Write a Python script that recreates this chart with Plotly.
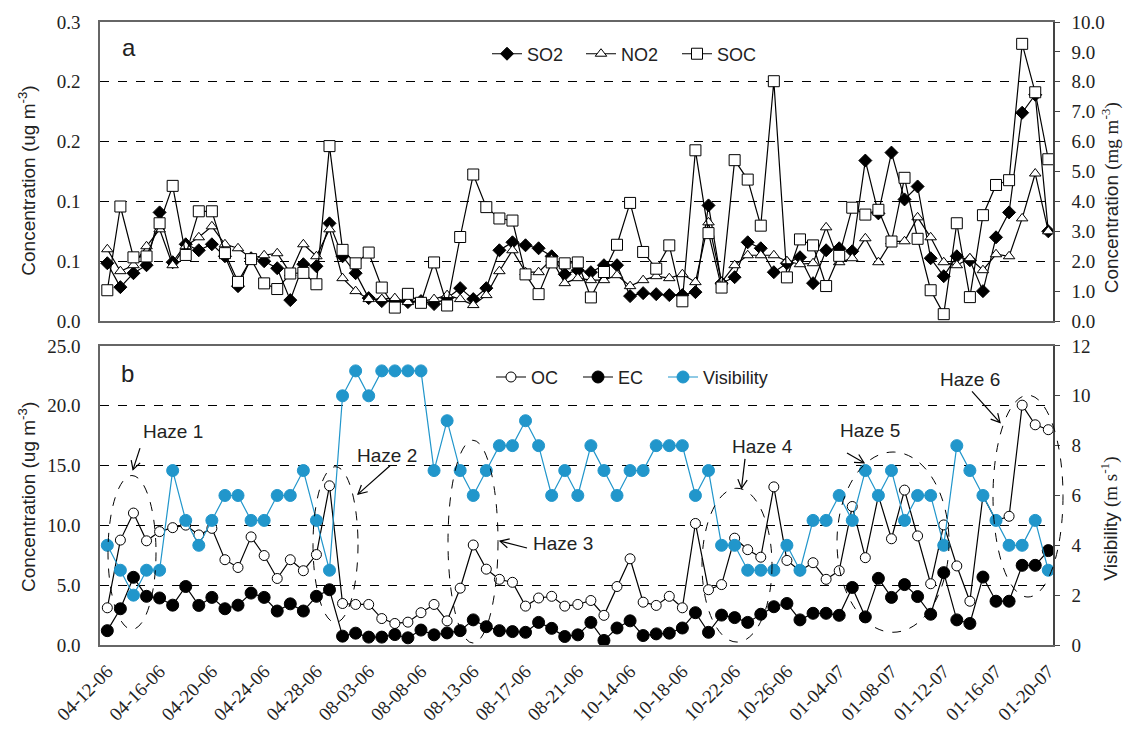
import math
import plotly.graph_objects as go

DATES = [
    "04-12-06", "04-13-06", "04-14-06", "04-15-06", "04-16-06", "04-17-06", "04-18-06",
    "04-19-06", "04-20-06", "04-21-06", "04-22-06", "04-23-06", "04-24-06", "04-25-06",
    "04-26-06", "04-27-06", "04-28-06", "04-29-06", "04-30-06",
    "08-02-06", "08-03-06", "08-04-06", "08-05-06", "08-07-06", "08-08-06", "08-09-06",
    "08-10-06", "08-12-06", "08-13-06", "08-14-06", "08-15-06", "08-16-06", "08-17-06",
    "08-18-06", "08-19-06", "08-20-06", "08-21-06", "08-22-06",
    "10-12-06", "10-13-06", "10-14-06", "10-15-06", "10-16-06", "10-17-06", "10-18-06",
    "10-19-06", "10-20-06", "10-21-06", "10-22-06", "10-23-06", "10-24-06", "10-25-06",
    "10-26-06", "10-27-06",
    "01-02-07", "01-03-07", "01-04-07", "01-05-07", "01-06-07", "01-07-07", "01-08-07",
    "01-09-07", "01-10-07", "01-11-07", "01-12-07", "01-13-07", "01-14-07", "01-15-07",
    "01-16-07", "01-17-07", "01-18-07", "01-19-07", "01-20-07",
]

TICK_LABELS = [
    "04-12-06", "04-16-06", "04-20-06", "04-24-06", "04-28-06", "08-03-06", "08-08-06",
    "08-13-06", "08-17-06", "08-21-06", "10-14-06", "10-18-06", "10-22-06", "10-26-06",
    "01-04-07", "01-08-07", "01-12-07", "01-16-07", "01-20-07",
]

SO2 = [0.058, 0.034, 0.048, 0.056, 0.109, 0.059, 0.077, 0.071, 0.077, 0.065,
       0.035, 0.063, 0.060, 0.053, 0.021, 0.057, 0.055, 0.098, 0.065, 0.048,
       0.023, 0.020, 0.020, 0.019, 0.020, 0.017, 0.023, 0.033, 0.022, 0.033,
       0.071, 0.079, 0.076, 0.073, 0.065, 0.047, 0.051, 0.049, 0.056, 0.056,
       0.025, 0.028, 0.027, 0.026, 0.026, 0.029, 0.116, 0.038, 0.044, 0.079,
       0.073, 0.049, 0.058, 0.064, 0.038, 0.071, 0.073, 0.070, 0.161, 0.108,
       0.169, 0.122, 0.135, 0.063, 0.045, 0.065, 0.061, 0.030, 0.084, 0.109,
       0.209, 0.227, 0.090]

NO2 = [0.072, 0.050, 0.056, 0.075, 0.092, 0.056, 0.075, 0.084, 0.095, 0.077,
       0.073, 0.063, 0.066, 0.068, 0.048, 0.077, 0.065, 0.092, 0.043, 0.030,
       0.022, 0.022, 0.023, 0.019, 0.020, 0.022, 0.026, 0.022, 0.016, 0.026,
       0.050, 0.071, 0.049, 0.049, 0.062, 0.038, 0.043, 0.041, 0.041, 0.046,
       0.035, 0.041, 0.045, 0.043, 0.047, 0.039, 0.099, 0.039, 0.056, 0.066,
       0.066, 0.066, 0.060, 0.057, 0.058, 0.094, 0.059, 0.063, 0.083, 0.059,
       0.080, 0.080, 0.104, 0.084, 0.059, 0.056, 0.063, 0.051, 0.067, 0.065,
       0.103, 0.148, 0.090]

SOC = [1.03, 3.83, 2.13, 2.16, 3.27, 4.52, 2.21, 3.67, 3.67, 2.27,
       1.31, 2.07, 1.26, 1.07, 1.59, 1.61, 1.23, 5.85, 2.38, 1.93,
       2.29, 1.12, 0.45, 0.91, 0.61, 1.96, 0.52, 2.81, 4.90, 3.81,
       3.43, 3.36, 1.56, 0.90, 1.96, 1.93, 1.96, 0.79, 1.64, 2.55,
       3.95, 2.31, 1.75, 2.53, 0.66, 5.71, 2.94, 1.12, 5.38, 4.73,
       3.19, 8.02, 1.46, 2.73, 2.53, 1.17, 2.18, 3.79, 3.56, 3.72,
       2.66, 4.79, 2.75, 1.03, 0.23, 3.27, 0.80, 3.54, 4.55, 4.71,
       9.27, 7.65, 5.41]

OC = [3.11, 8.77, 11.03, 8.71, 9.48, 9.81, 10.02, 9.20, 9.75, 7.13,
      6.48, 9.04, 7.48, 5.56, 7.13, 6.21, 7.56, 13.31, 3.47, 3.39,
      3.39, 2.21, 1.80, 1.91, 2.70, 3.39, 2.02, 4.75, 8.36, 6.34,
      5.49, 5.24, 3.25, 3.93, 4.07, 3.25, 3.39, 3.72, 2.48, 4.89,
      7.21, 3.58, 3.31, 4.07, 3.11, 10.16, 4.62, 5.05, 8.93, 7.97,
      7.34, 13.22, 7.07, 6.20, 6.88, 5.49, 6.21, 11.58, 7.30, 12.48,
      8.88, 12.95, 9.12, 5.12, 10.04, 6.61, 3.66, 12.48, 10.40, 10.76,
      20.05, 18.41, 18.00]

EC = [1.20, 3.03, 5.66, 4.07, 3.93, 3.33, 4.89, 3.31, 3.98, 3.03,
      3.33, 4.34, 3.98, 2.84, 3.44, 2.84, 4.07, 4.62, 0.74, 0.99,
      0.66, 0.66, 0.87, 0.60, 1.25, 0.85, 1.01, 1.20, 2.10, 1.53,
      1.20, 1.12, 1.06, 1.89, 1.39, 0.71, 0.85, 1.89, 0.38, 1.42,
      2.02, 0.79, 0.93, 0.99, 1.42, 2.70, 1.06, 2.50, 2.29, 1.89,
      2.57, 3.20, 3.47, 2.10, 2.65, 2.65, 2.48, 4.81, 2.35, 5.57,
      3.98, 5.05, 4.05, 2.57, 6.05, 2.10, 1.80, 5.68, 3.66, 3.66,
      6.66, 6.66, 7.89]

VISIBILITY = [4, 3, 2, 3, 3, 7, 5, 4, 5, 6,
              6, 5, 5, 6, 6, 7, 5, 3, 10, 11,
              10, 11, 11, 11, 11, 7, 9, 7, 6, 7,
              8, 8, 9, 8, 6, 7, 6, 8, 7, 6,
              7, 7, 8, 8, 8, 6, 7, 4, 4, 3,
              3, 3, 4, 3, 5, 5, 6, 5, 7, 6,
              7, 5, 6, 6, 4, 8, 7, 6, 5, 4,
              4, 5, 3]

HAZE_LABELS = ["Haze 1", "Haze 2", "Haze 3", "Haze 4", "Haze 5", "Haze 6"]

BLUE = "#2196CB"
SANS = "Liberation Sans"
SERIF = "Liberation Serif"
TXT = "#222222"

# figure geometry (pixels)
W, H = 1128, 737
ML, MR, MT, MB = 100, 75, 20, 81
PW = W - ML - MR
PH = H - MT - MB


def px(xp):
    return (xp - ML) / PW


def py(yp):
    return (H - MB - yp) / PH


fig = go.Figure()

line_k = dict(color="black", width=1.2)

fig.add_trace(go.Scatter(x=DATES, y=SO2, name="SO2", mode="lines+markers",
                         line=line_k, xaxis="x", yaxis="y", legend="legend",
                         marker=dict(symbol="diamond", size=10, color="black",
                                     line=dict(color="black", width=1))))
fig.add_trace(go.Scatter(x=DATES, y=NO2, name="NO2", mode="lines+markers",
                         line=line_k, xaxis="x", yaxis="y", legend="legend2",
                         marker=dict(symbol="triangle-up", size=10, color="white",
                                     line=dict(color="black", width=1))))
fig.add_trace(go.Scatter(x=DATES, y=SOC, name="SOC", mode="lines+markers",
                         line=line_k, xaxis="x", yaxis="y2", legend="legend3",
                         marker=dict(symbol="square", size=11, color="white",
                                     line=dict(color="black", width=1))))

fig.add_trace(go.Scatter(x=DATES, y=OC, name="OC", mode="lines+markers",
                         line=line_k, xaxis="x2", yaxis="y3", legend="legend4",
                         marker=dict(symbol="circle", size=10, color="white",
                                     line=dict(color="black", width=1))))
fig.add_trace(go.Scatter(x=DATES, y=EC, name="EC", mode="lines+markers",
                         line=line_k, xaxis="x2", yaxis="y3", legend="legend5",
                         marker=dict(symbol="circle", size=12, color="black",
                                     line=dict(color="black", width=1))))
fig.add_trace(go.Scatter(x=DATES, y=VISIBILITY, name="Visibility", mode="lines+markers",
                         line=dict(color=BLUE, width=1.2), xaxis="x2", yaxis="y4",
                         legend="legend6",
                         marker=dict(symbol="circle", size=12, color=BLUE,
                                     line=dict(color=BLUE, width=1))))

xrange = [-0.56, 72.36]
axis_line = dict(showline=True, linecolor="#666666", linewidth=1.5, mirror=True)
tickfont = dict(family=SERIF, size=19, color=TXT)


def legend_at(marker_x, center_y):
    return dict(orientation="h", x=px(marker_x - 20), y=py(center_y), xanchor="left",
                yanchor="middle", bgcolor="rgba(0,0,0,0)",
                font=dict(family=SANS, size=18, color=TXT))


fig.update_layout(
    width=W, height=H,
    margin=dict(l=ML, r=MR, t=MT, b=MB),
    paper_bgcolor="white", plot_bgcolor="white",
    showlegend=True,
    xaxis=dict(domain=[0, 1], anchor="y", type="category",
               categoryorder="array", categoryarray=DATES, range=xrange,
               showticklabels=False, showgrid=False, ticks="", **axis_line),
    yaxis=dict(domain=[0.52, 1], anchor="x", range=[0, 0.3],
               tickvals=[0, 0.06, 0.12, 0.18, 0.24, 0.3],
               ticktext=["0.0", "0.1", "0.1", "0.2", "0.2", "0.3"],
               showgrid=True, gridcolor="black", gridwidth=1, griddash="dash",
               zeroline=False, ticks="", ticklabelstandoff=14, tickfont=tickfont,
               **axis_line),
    yaxis2=dict(overlaying="y", anchor="x", side="right", range=[0, 10],
                tickvals=[0, 1, 2, 3, 4, 5, 6, 7, 8, 9, 10], tickformat=".1f",
                showgrid=False, zeroline=False, ticks="outside", ticklen=5,
                tickcolor="#444444", ticklabelstandoff=8, tickfont=tickfont,
                showline=True, linecolor="#444444", linewidth=1.5),
    xaxis2=dict(domain=[0, 1], anchor="y3", type="category",
                categoryorder="array", categoryarray=DATES, range=xrange,
                tickvals=TICK_LABELS, ticktext=TICK_LABELS, tickangle=-45,
                showgrid=False, ticks="", ticklabelstandoff=6, tickfont=tickfont,
                **axis_line),
    yaxis3=dict(domain=[0, 0.48], anchor="x2", range=[0, 25],
                tickvals=[0, 5, 10, 15, 20, 25], tickformat=".1f",
                showgrid=True, gridcolor="black", gridwidth=1, griddash="dash",
                zeroline=False, ticks="", ticklabelstandoff=14, tickfont=tickfont,
                **axis_line),
    yaxis4=dict(overlaying="y3", anchor="x2", side="right", range=[0, 12],
                tickvals=[0, 2, 4, 6, 8, 10, 12],
                showgrid=False, zeroline=False, ticks="outside", ticklen=5,
                tickcolor="#444444", ticklabelstandoff=8, tickfont=tickfont,
                showline=True, linecolor="#444444", linewidth=1.5),
    legend=legend_at(507, 52.7),
    legend2=legend_at(601, 52.7),
    legend3=legend_at(697, 52.7),
    legend4=legend_at(511, 382.7),
    legend5=legend_at(598, 382.7),
    legend6=legend_at(683, 382.7),
)

annotations = []


def label(text, x, y, size, angle=0):
    annotations.append(dict(text=text, xref="paper", yref="paper", x=px(x), y=py(y),
                            xanchor="center", yanchor="middle", textangle=angle,
                            showarrow=False, font=dict(family=SANS, size=size, color=TXT)))


# panel letters
label("a", 128.5, 46, 24)
label("b", 127, 379, 24)
# axis titles
label("Concentration (ug m<sup>-3</sup>)", 27, 182, 19, -90)
label("Concentration (ug m<sup>-3</sup>)", 27, 505, 19, -90)
label("Concentration <span style=\"font-family:'Liberation Serif'\">(mg m<sup>-3</sup>)</span>",
      1110, 200, 19, -90)
label("Visibility <span style=\"font-family:'Liberation Serif'\">(m s<sup>-1</sup>)</span>",
      1110, 527, 19, -90)

# haze labels, arrows and ellipses (pixel geometry)
haze_text_pos = [(172.5, 438.5), (387, 463), (563, 552), (762, 453), (870, 437), (970, 385)]
haze_arrows = [((140, 455), (133, 477)), ((390, 473), (358, 502)), ((527, 557), (500, 550)),
               ((745, 466), (741.5, 496)), ((847, 460), (864, 470)), ((972, 397), (1000, 429))]
haze_ellipses = [(108, 483, 156, 640), (313, 474, 358, 633), (448, 447, 498, 654),
                 (702, 496, 772, 653), (837, 459, 949, 643), (993, 401, 1063, 607)]

shapes = []
for text, (tx, ty) in zip(HAZE_LABELS, haze_text_pos):
    label(text, tx, ty, 19)

for (x0, y0), (x1, y1) in haze_arrows:
    shapes.append(dict(type="line", xref="paper", yref="paper",
                       x0=px(x0), y0=py(y0), x1=px(x1), y1=py(y1),
                       line=dict(color="black", width=1.2)))
    ang = math.atan2(y1 - y0, x1 - x0)
    L = 10
    pts = []
    for s in (1, -1):
        a = ang + math.pi - s * math.radians(28)
        pts.append((x1 + L * math.cos(a), y1 + L * math.sin(a)))
    path = "M {:.5f},{:.5f} L {:.5f},{:.5f} L {:.5f},{:.5f}".format(
        px(pts[0][0]), py(pts[0][1]), px(x1), py(y1), px(pts[1][0]), py(pts[1][1]))
    shapes.append(dict(type="path", xref="paper", yref="paper", path=path,
                       line=dict(color="black", width=1.2)))

for (x0, y0, x1, y1) in haze_ellipses:
    shapes.append(dict(type="circle", xref="paper", yref="paper",
                       x0=px(x0), x1=px(x1), y0=py(y1), y1=py(y0),
                       line=dict(color="black", width=1, dash="dash")))

fig.update_layout(annotations=annotations, shapes=shapes)

fig.write_html("out.html")
